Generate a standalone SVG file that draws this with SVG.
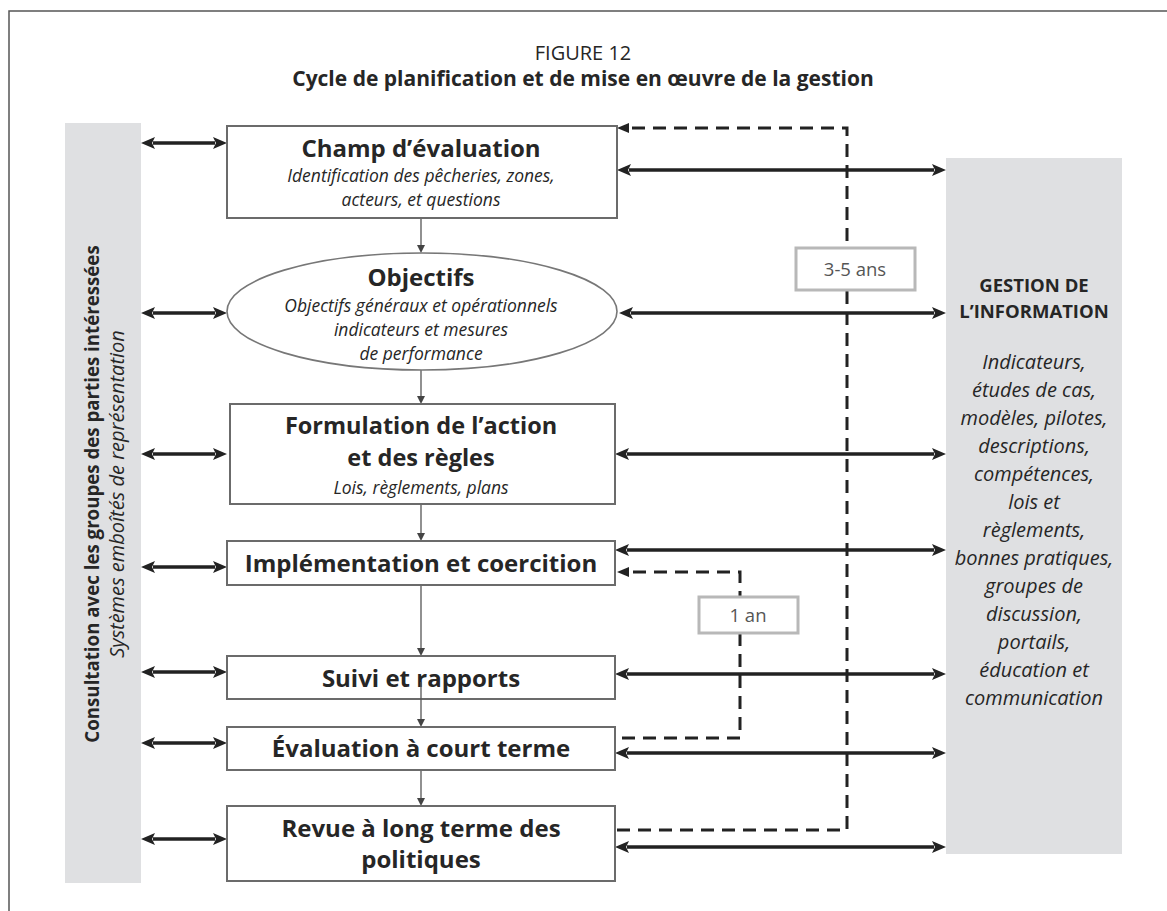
<svg xmlns="http://www.w3.org/2000/svg" width="1167" height="911" viewBox="0 0 1167 911">
<style>
  text { font-family: "Open Sans", "Liberation Sans", sans-serif; fill: #262626; }
  .ttl { font-size: 20px; text-anchor: middle; }
  .ttlb { font-size: 21px; font-weight: bold; text-anchor: middle; }
  .h { font-size: 24px; font-weight: bold; text-anchor: middle; }
  .it { font-size: 17.5px; font-style: italic; text-anchor: middle; }
  .rh { font-size: 18.5px; font-weight: bold; text-anchor: middle; }
  .rit { font-size: 20px; font-style: italic; text-anchor: middle; }
  .lab { font-size: 18.5px; text-anchor: middle; fill: #555; }
  .box { fill: #fff; stroke: #6b6b6b; stroke-width: 2; }
  .lbox { fill: #fff; stroke: #b8b8b8; stroke-width: 3; }
  .panel { fill: #dfe0e2; }
  .bi { stroke: #222; stroke-width: 3.5; fill: none; marker-start: url(#ah); marker-end: url(#ah); }
  .dn { stroke: #555; stroke-width: 1.3; fill: none; marker-end: url(#sm); }
  .dash { stroke: #222; stroke-width: 3; fill: none; stroke-dasharray: 13 8; marker-end: url(#dh); }
</style>
<defs>
  <marker id="ah" viewBox="0 0 14 12" refX="2" refY="6" markerWidth="14" markerHeight="12" markerUnits="userSpaceOnUse" orient="auto-start-reverse">
    <path d="M0,0 L14,6 L0,12 L3,6 z" fill="#222"/>
  </marker>
  <marker id="dh" viewBox="0 0 12 10" refX="2" refY="5" markerWidth="12" markerHeight="10" markerUnits="userSpaceOnUse" orient="auto">
    <path d="M0,0 L12,5 L0,10 z" fill="#222"/>
  </marker>
  <marker id="sm" viewBox="0 0 8 8" refX="1" refY="4" markerWidth="8" markerHeight="8" markerUnits="userSpaceOnUse" orient="auto">
    <path d="M0,0 L8,4 L0,8 z" fill="#444"/>
  </marker>
</defs>

<rect width="1167" height="911" fill="#fff"/>
<path d="M9,911 V11 H1167" fill="none" stroke="#555" stroke-width="1.5"/>

<g id="title">
  <text class="ttl" x="583" y="60">FIGURE 12</text>
  <text class="ttlb" x="583" y="86">Cycle de planification et de mise en œuvre de la gestion</text>
</g>

<g id="consultation">
  <rect class="panel" x="65" y="123" width="76" height="760"/>
  <text transform="translate(99,494) rotate(-90)" style="font-size:18.7px;font-weight:bold;text-anchor:middle">Consultation avec les groupes des parties intéressées</text>
  <text transform="translate(124,494) rotate(-90)" style="font-size:20px;font-style:italic;text-anchor:middle">Systèmes emboîtés de représentation</text>
</g>

<g id="information">
  <rect class="panel" x="946" y="158" width="176" height="696"/>
  <text class="rh" x="1034" y="292">GESTION DE</text>
  <text class="rh" x="1034" y="318">L’INFORMATION</text>
  <text class="rit" x="1034" y="369">Indicateurs,</text>
  <text class="rit" x="1034" y="397">études de cas,</text>
  <text class="rit" x="1034" y="425">modèles, pilotes,</text>
  <text class="rit" x="1034" y="453">descriptions,</text>
  <text class="rit" x="1034" y="481">compétences,</text>
  <text class="rit" x="1034" y="509">lois et</text>
  <text class="rit" x="1034" y="537">règlements,</text>
  <text class="rit" x="1034" y="565">bonnes pratiques,</text>
  <text class="rit" x="1034" y="593">groupes de</text>
  <text class="rit" x="1034" y="621">discussion,</text>
  <text class="rit" x="1034" y="649">portails,</text>
  <text class="rit" x="1034" y="677">éducation et</text>
  <text class="rit" x="1034" y="705">communication</text>
</g>

<g id="connectors">
  <line class="dn" x1="421" y1="218" x2="421" y2="246"/>
  <line class="dn" x1="421" y1="370" x2="421" y2="397"/>
  <line class="dn" x1="421" y1="504" x2="421" y2="534"/>
  <line class="dn" x1="421" y1="585" x2="421" y2="649"/>
  <line class="dn" x1="421" y1="770" x2="421" y2="799"/>
  <path class="dash" d="M617,830 H847 V128 H627"/>
  <path class="dash" d="M622,738 H740 V572 H627"/>
  <line class="bi" x1="153" y1="143" x2="215" y2="143"/>
  <line class="bi" x1="153" y1="313" x2="215" y2="313"/>
  <line class="bi" x1="153" y1="454" x2="215" y2="454"/>
  <line class="bi" x1="153" y1="567" x2="215" y2="567"/>
  <line class="bi" x1="153" y1="672" x2="215" y2="672"/>
  <line class="bi" x1="153" y1="743" x2="215" y2="743"/>
  <line class="bi" x1="153" y1="839" x2="215" y2="839"/>
  <line class="bi" x1="629" y1="170" x2="934" y2="170"/>
  <line class="bi" x1="631" y1="313" x2="934" y2="313"/>
  <line class="bi" x1="627" y1="454" x2="934" y2="454"/>
  <line class="bi" x1="627" y1="550" x2="934" y2="550"/>
  <line class="bi" x1="627" y1="674" x2="934" y2="674"/>
  <line class="bi" x1="627" y1="753" x2="934" y2="753"/>
  <line class="bi" x1="627" y1="847" x2="934" y2="847"/>
</g>

<g id="label-3-5">
  <rect class="lbox" x="796" y="248" width="119" height="42"/>
  <text class="lab" x="855" y="276">3-5 ans</text>
</g>
<g id="label-1">
  <rect class="lbox" x="699" y="597" width="99" height="36"/>
  <text class="lab" x="748" y="622">1 an</text>
</g>

<g id="champ">
  <rect class="box" x="227" y="126" width="390" height="92"/>
  <text class="h" x="421" y="157">Champ d’évaluation</text>
  <text class="it" x="421" y="182">Identification des pêcheries, zones,</text>
  <text class="it" x="421" y="206">acteurs, et questions</text>
</g>

<g id="objectifs">
  <ellipse cx="422" cy="311.5" rx="195" ry="58.5" fill="#fff" stroke="#777" stroke-width="1.6"/>
  <text class="h" x="421" y="286">Objectifs</text>
  <text class="it" x="421" y="312">Objectifs généraux et opérationnels</text>
  <text class="it" x="421" y="336">indicateurs et mesures</text>
  <text class="it" x="421" y="360">de performance</text>
</g>

<g id="formulation">
  <rect class="box" x="230" y="404" width="385" height="100"/>
  <text class="h" x="421" y="434" style="font-size:23.5px">Formulation de l’action</text>
  <text class="h" x="421" y="466" style="font-size:23.5px">et des règles</text>
  <text class="it" x="421" y="494">Lois, règlements, plans</text>
</g>

<g id="implementation">
  <rect class="box" x="227" y="541" width="388" height="44"/>
  <text class="h" x="421" y="572">Implémentation et coercition</text>
</g>

<g id="suivi">
  <rect class="box" x="227" y="656" width="388" height="43"/>
  <text class="h" x="421" y="687">Suivi et rapports</text>
</g>
<line class="dn" x1="421" y1="682" x2="421" y2="720"/>

<g id="evaluation">
  <rect class="box" x="227" y="727" width="388" height="43"/>
  <text class="h" x="421" y="757">Évaluation à court terme</text>
</g>

<g id="revue">
  <rect class="box" x="227" y="806" width="388" height="75"/>
  <text class="h" x="421" y="837">Revue à long terme des</text>
  <text class="h" x="421" y="868">politiques</text>
</g>
</svg>
